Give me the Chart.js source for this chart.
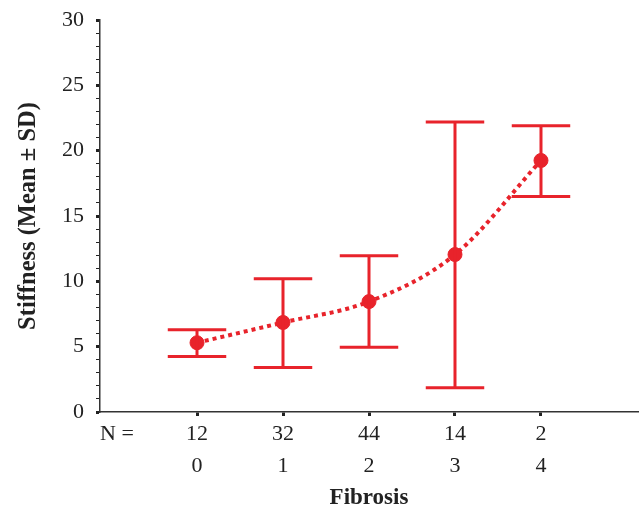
<!DOCTYPE html>
<html><head><meta charset="utf-8">
<script src="https://cdn.jsdelivr.net/npm/chart.js@4/dist/chart.umd.min.js"></script>
<style>html,body{margin:0;padding:0;background:#fff}#wrap{width:642px;height:507px}</style>
</head><body><div id="wrap"><canvas id="c" width="642" height="507"></canvas></div>
<script>
const categories = [0, 1, 2, 3, 4];
const counts = [12, 32, 44, 14, 2];
const means = [5.3, 6.85, 8.45, 12.05, 19.25];
const upper = [6.3, 10.2, 11.95, 22.2, 21.9];
const lower = [4.25, 3.4, 4.95, 1.85, 16.5];
const yTicks = [0, 5, 10, 15, 20, 25, 30];

const RED = '#e8232b';
const AXIS = '#333';

const errorBars = {
  id: 'errorBars',
  afterDatasetsDraw(chart) {
    const {ctx, scales: {x, y}} = chart;
    ctx.save();
    ctx.strokeStyle = RED;
    ctx.lineWidth = 3;
    ctx.lineCap = 'butt';
    categories.forEach((c, i) => {
      const px = x.getPixelForValue(c);
      const hw = (x.getPixelForValue(c + 0.34) - px);
      const yt = y.getPixelForValue(upper[i]);
      const yb = y.getPixelForValue(lower[i]);
      ctx.beginPath();
      ctx.moveTo(px, yt); ctx.lineTo(px, yb);
      ctx.moveTo(px - hw, yt); ctx.lineTo(px + hw, yt);
      ctx.moveTo(px - hw, yb); ctx.lineTo(px + hw, yb);
      ctx.stroke();
    });
    ctx.restore();
  }
};

const nLabel = {
  id: 'nLabel',
  afterDraw(chart) {
    const {ctx} = chart;
    ctx.save();
    ctx.font = '22px "Liberation Serif"';
    ctx.fillStyle = '#222';
    ctx.textAlign = 'left';
    ctx.textBaseline = 'middle';
    ctx.fillText('N =', 100, 434);
    ctx.restore();
  }
};

new Chart(document.getElementById('c'), {
  data: {
    datasets: [
      {
        type: 'scatter',
        data: categories.map((c, i) => ({x: c, y: means[i]})),
        backgroundColor: RED, borderColor: RED,
        pointRadius: 7, pointHoverRadius: 7, order: 0
      },
      {
        type: 'line',
        data: categories.map((c, i) => ({x: c, y: means[i]})),
        borderColor: RED, borderWidth: 4, borderDash: [4, 4],
        cubicInterpolationMode: 'monotone',
        pointRadius: 0, fill: false, order: 1
      }
    ]
  },
  options: {
    responsive: false, animation: false,
    layout: {autoPadding: false, padding: {left: 14, right: 4, top: 20, bottom: 0}},
    plugins: {legend: {display: false}, tooltip: {enabled: false}},
    scales: {
      x: {
        type: 'linear', min: -1.128, max: 5.128,
        afterBuildTicks(s) { s.ticks = categories.map(v => ({value: v})); },
        afterFit(s) { s.height = 95; s.paddingLeft = 0; s.paddingRight = 0; },
        border: {display: true, color: AXIS, width: 1.5},
        grid: {drawOnChartArea: false, drawTicks: true, tickLength: 4, tickWidth: 3, tickColor: '#222'},
        ticks: {
          color: '#222', font: {family: 'Liberation Serif', size: 22, lineHeight: 1.45}, padding: 2,
          maxRotation: 0, autoSkip: false,
          callback: (v) => { const i = categories.indexOf(v); return i < 0 ? '' : [String(counts[i]), String(categories[i])]; }
        },
        title: {display: true, text: 'Fibrosis', color: '#222', font: {family: 'Liberation Serif', size: 23, weight: 'bold', lineHeight: 0.9}, padding: {top: 4, bottom: -1}}
      },
      y: {
        min: 0, max: 30,
        afterBuildTicks(s) { const t = []; for (let v = 0; v <= 30; v++) t.push({value: v}); s.ticks = t; },
        afterFit(s) { s.width = 86; s.paddingTop = 0; s.paddingBottom = 0; },
        border: {display: true, color: AXIS, width: 1.5},
        grid: {drawOnChartArea: false, drawTicks: true, tickLength: 4,
          tickWidth: (c) => (c.tick && c.tick.value % 5 === 0) ? 3 : 1, tickColor: '#222'},
        ticks: {
          color: '#222', font: {family: 'Liberation Serif', size: 22}, padding: 12, autoSkip: false,
          callback: (v) => yTicks.includes(v) ? String(v) : ''
        },
        title: {display: true, text: 'Stiffness (Mean ± SD)', color: '#222', font: {family: 'Liberation Serif', size: 24.5, weight: 'bold'}, padding: {top: 0, bottom: 6}}
      }
    }
  },
  plugins: [errorBars, nLabel]
});
</script></body></html>
